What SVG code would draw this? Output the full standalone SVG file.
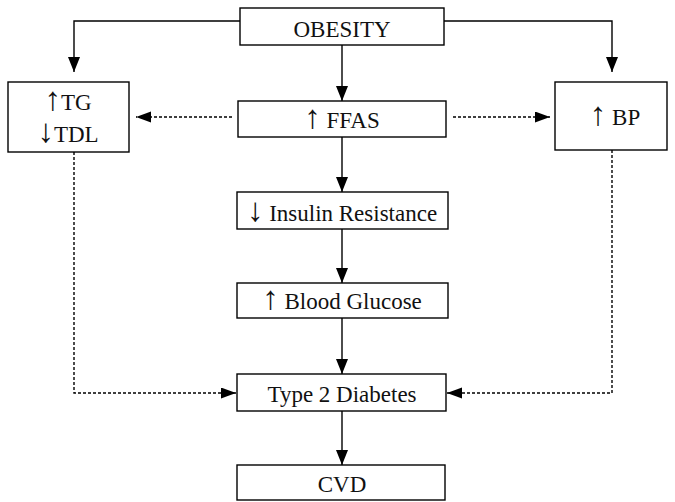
<svg xmlns="http://www.w3.org/2000/svg" width="675" height="502" viewBox="0 0 675 502">
<defs>
<style>
.box{fill:#fff;stroke:#000;stroke-width:1.4}
.t{font-family:"Liberation Serif","DejaVu Serif",serif;font-size:23px;fill:#111;text-anchor:middle}
.a{font-size:33px}
.c{fill:none;stroke:#000;stroke-width:1.4}
.d{fill:none;stroke:#000;stroke-width:1.4;stroke-dasharray:3 2}
</style>
<marker id="ah" markerUnits="userSpaceOnUse" markerWidth="16" markerHeight="14" refX="15" refY="6" orient="auto">
<polygon points="0,0 15,6 0,12" fill="#000"/>
</marker>
<marker id="ad" markerUnits="userSpaceOnUse" markerWidth="16" markerHeight="13" refX="15" refY="5.5" orient="auto">
<polygon points="0,0 15,5.5 0,11" fill="#000"/>
</marker>
</defs>
<g id="connectors">
<polyline class="c" points="240,21 74,21 74,72" marker-end="url(#ah)"/>
<polyline class="c" points="444,21 612,21 612,72" marker-end="url(#ah)"/>
<line class="c" x1="342" y1="45" x2="342" y2="101" marker-end="url(#ah)"/>
<line class="c" x1="342" y1="137" x2="342" y2="192" marker-end="url(#ah)"/>
<line class="c" x1="342" y1="229" x2="342" y2="283" marker-end="url(#ah)"/>
<line class="c" x1="342" y1="318" x2="342" y2="374" marker-end="url(#ah)"/>
<line class="c" x1="342" y1="411" x2="342" y2="465" marker-end="url(#ah)"/>
<line class="d" x1="232" y1="117" x2="136" y2="117" marker-end="url(#ad)"/>
<line class="d" x1="453" y1="117" x2="550" y2="117" marker-end="url(#ad)"/>
<polyline class="d" points="74,152 74,393 236,393" marker-end="url(#ad)"/>
<polyline class="d" points="612,150 612,393 447,393" marker-end="url(#ad)"/>
</g>
<g id="obesity"><rect class="box" x="240" y="8" width="204" height="37"/><text class="t" x="342" y="37">OBESITY</text></g>
<g id="tg-tdl"><rect class="box" x="8" y="82" width="121" height="70"/><text class="t" x="68" y="110"><tspan class="a">↑</tspan>TG</text><text class="t" x="68" y="142"><tspan class="a">↓</tspan>TDL</text></g>
<g id="ffas"><rect class="box" x="238" y="101" width="208" height="36"/><text class="t" x="342" y="128"><tspan class="a">↑</tspan> FFAS</text></g>
<g id="bp"><rect class="box" x="555" y="82" width="112" height="68"/><text class="t" x="615" y="125"><tspan class="a">↑</tspan> BP</text></g>
<g id="insulin"><rect class="box" x="237" y="192" width="211" height="37"/><text class="t" x="342" y="221"><tspan class="a">↓</tspan> Insulin Resistance</text></g>
<g id="glucose"><rect class="box" x="237" y="283" width="211" height="35"/><text class="t" x="342" y="309"><tspan class="a">↑</tspan> Blood Glucose</text></g>
<g id="diabetes"><rect class="box" x="237" y="374" width="209" height="37"/><text class="t" x="342" y="402">Type 2 Diabetes</text></g>
<g id="cvd"><rect class="box" x="237" y="465" width="208" height="35"/><text class="t" x="342" y="492">CVD</text></g>
</svg>
